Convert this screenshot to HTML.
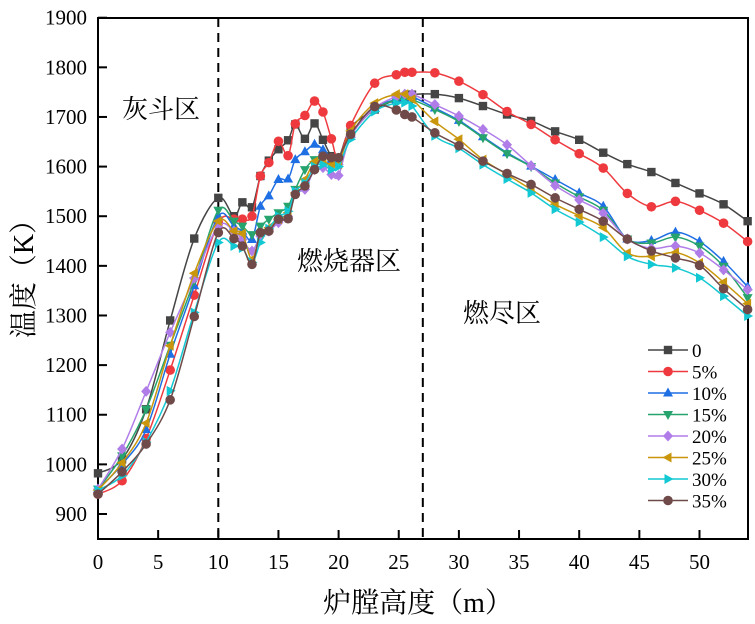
<!DOCTYPE html>
<html><head><meta charset="utf-8">
<style>
html,body{margin:0;padding:0;background:#fff;}
svg{display:block;font-family:"Liberation Serif","Noto Serif CJK SC",serif;}
</style></head>
<body>
<svg id="chart" width="755" height="624" viewBox="0 0 755 624">
<g id="plot"></g>
<text x="122" y="118" font-size="26" font-family="Liberation Serif, Noto Serif CJK SC, serif">灰斗区</text>
<text x="297" y="270" font-size="26" font-family="Liberation Serif, Noto Serif CJK SC, serif">燃烧器区</text>
<text x="463" y="322" font-size="26" font-family="Liberation Serif, Noto Serif CJK SC, serif">燃尽区</text>
<text x="418" y="612" font-size="28" text-anchor="middle" font-family="Liberation Serif, Noto Serif CJK SC, serif">炉膛高度（m）</text>
<text transform="translate(33,272) rotate(-90)" font-size="28" text-anchor="middle" font-family="Liberation Serif, Noto Serif CJK SC, serif">温度（K）</text>
</svg>
<script>
const xs = [0,2,4,6,8,10,11.3,12,12.8,13.5,14.2,15,15.8,16.4,17.2,18,18.7,19.4,20,21,23,24.8,25.5,26.1,28,30,32,34,36,38,40,42,44,46,48,50,52,54];
const s0 = [982,1010,1111,1290,1455,1537,1500,1528,1518,1581,1612,1635,1653,1685,1656,1687,1654,1621,1616,1678,1715,1735,1741,1745,1746,1738,1722,1705,1692,1671,1654,1628,1605,1589,1567,1546,1524,1490];
const s5 = [940,967,1052,1190,1341,1487,1494,1494,1500,1581,1608,1651,1622,1686,1703,1732,1710,1656,1616,1683,1768,1785,1790,1790,1789,1772,1745,1711,1685,1654,1626,1597,1546,1519,1530,1512,1486,1449];
const s10 = [950,1000,1070,1222,1360,1500,1480,1470,1453,1520,1541,1574,1575,1614,1630,1645,1634,1614,1610,1665,1718,1735,1738,1741,1718,1693,1660,1628,1601,1574,1547,1520,1454,1451,1468,1449,1409,1358];
const s15 = [950,1017,1111,1240,1370,1512,1490,1480,1463,1480,1494,1507,1520,1554,1594,1614,1614,1600,1612,1665,1716,1734,1735,1735,1715,1691,1658,1626,1600,1567,1539,1512,1454,1446,1458,1440,1399,1336];
const s20 = [950,1031,1147,1266,1375,1480,1470,1453,1430,1460,1470,1487,1500,1547,1554,1594,1598,1584,1582,1660,1718,1741,1746,1746,1725,1702,1675,1644,1602,1562,1533,1506,1454,1435,1440,1426,1392,1352];
const s25 = [948,1003,1083,1239,1385,1490,1470,1465,1413,1465,1477,1494,1507,1547,1574,1610,1610,1604,1605,1672,1728,1746,1746,1736,1691,1655,1614,1584,1554,1524,1501,1477,1426,1419,1427,1406,1367,1324];
const s30 = [948,977,1045,1148,1306,1447,1440,1436,1407,1447,1475,1500,1510,1550,1567,1600,1604,1594,1600,1655,1711,1728,1729,1722,1662,1637,1604,1575,1547,1514,1488,1458,1419,1403,1396,1376,1339,1299];
const s35 = [940,985,1041,1130,1298,1467,1455,1440,1403,1467,1470,1494,1495,1544,1561,1594,1621,1618,1618,1665,1721,1714,1705,1700,1668,1642,1611,1586,1564,1537,1514,1490,1454,1430,1416,1401,1354,1312];
const seriesNames = ["0","5%","10%","15%","20%","25%","30%","35%"];
const xTicks = [0,5,10,15,20,25,30,35,40,45,50];
const yTicks = [900,1000,1100,1200,1300,1400,1500,1600,1700,1800,1900];
const allSeries = [s0,s5,s10,s15,s20,s25,s30,s35];
const colors = ["#454545","#ee3a3e","#1e6fe3","#27a46e","#b07de8","#c9960c","#12c8d2","#6f4a49"];
const markers = ["square","circle","tri-up","tri-down","diamond","tri-left","tri-right","circle"];

const L=98,R=748,T=18,B=539;
const xS = v => 98 + v*12.03;
const yS = v => 514 - (v-900)*0.4963;
const NS="http://www.w3.org/2000/svg";
const g=document.getElementById('plot');
function mk(tag,attrs,parent){const e=document.createElementNS(NS,tag);for(const k in attrs)e.setAttribute(k,attrs[k]);(parent||g).appendChild(e);return e;}

const frame=mk('rect',{x:L,y:T,width:R-L,height:B-T,fill:'none',stroke:'#000','stroke-width':2});



[10,27].forEach(v=>{
  const d=mk('line',{x1:xS(v),x2:xS(v),y1:T,y2:B,stroke:'#000','stroke-width':2,'stroke-dasharray':'9,6'});
  
  
});

xTicks.forEach(v=>{
  const t=mk('line',{x1:xS(v),x2:xS(v),y1:B,y2:B-9,stroke:'#000','stroke-width':2});
  
  
  const l=mk('text',{x:xS(v),y:569,'text-anchor':'middle','font-size':21});
  l.textContent=v;
  
  
});
yTicks.forEach(v=>{
  const t=mk('line',{x1:L,x2:L+9,y1:yS(v),y2:yS(v),stroke:'#000','stroke-width':2});
  
  
  const l=mk('text',{x:87,y:yS(v)+7,'text-anchor':'end','font-size':21});
  l.textContent=v;
  
  
});

function spline(pts){
  let d='M'+pts[0][0]+','+pts[0][1];
  for(let i=0;i<pts.length-1;i++){
    const p0=pts[i-1]||pts[i],p1=pts[i],p2=pts[i+1],p3=pts[i+2]||p2;
    const c1x=p1[0]+(p2[0]-p0[0])/6,c1y=p1[1]+(p2[1]-p0[1])/6;
    const c2x=p2[0]-(p3[0]-p1[0])/6,c2y=p2[1]-(p3[1]-p1[1])/6;
    d+=' C'+c1x+','+c1y+' '+c2x+','+c2y+' '+p2[0]+','+p2[1];
  }
  return d;
}
function marker(type,x,y,color,parent){
  const s=4.2;let e;
  if(type==='square') e=mk('rect',{x:x-s,y:y-s,width:2*s,height:2*s,fill:color},parent);
  else if(type==='circle') e=mk('circle',{cx:x,cy:y,r:s+0.6,fill:color},parent);
  else {
    let p;
    if(type==='tri-up') p=[[x,y-5.5],[x-5,y+3.5],[x+5,y+3.5]];
    if(type==='tri-down') p=[[x,y+5.5],[x-5,y-3.5],[x+5,y-3.5]];
    if(type==='tri-left') p=[[x-5.5,y],[x+3.5,y-5],[x+3.5,y+5]];
    if(type==='tri-right') p=[[x+5.5,y],[x-3.5,y-5],[x-3.5,y+5]];
    if(type==='diamond') p=[[x,y-5.5],[x+5,y],[x,y+5.5],[x-5,y]];
    e=mk('polygon',{points:p.map(q=>q.join(',')).join(' '),fill:color},parent);
  }
  return e;
}

allSeries.forEach((s,i)=>{
  const sg=mk('g',{});
  
  
  const pts=xs.map((x,j)=>[xS(x),yS(s[j])]);
  mk('path',{d:spline(pts),fill:'none',stroke:colors[i],'stroke-width':1.5},sg);
  pts.forEach(p=>{
    const m=marker(markers[i],p[0],p[1],colors[i],sg);
    
    
  });
});

const lg=mk('g',{});


seriesNames.forEach((n,i)=>{
  const y=350+i*21.5;
  const eg=mk('g',{},lg);
  
  
  mk('line',{x1:648,x2:688,y1:y,y2:y,stroke:colors[i],'stroke-width':1.4},eg);
  marker(markers[i],668,y,colors[i],eg);
  const t=mk('text',{x:692,y:y+7,'font-size':19},eg);
  t.textContent=n;
});
</script>
</body></html>
